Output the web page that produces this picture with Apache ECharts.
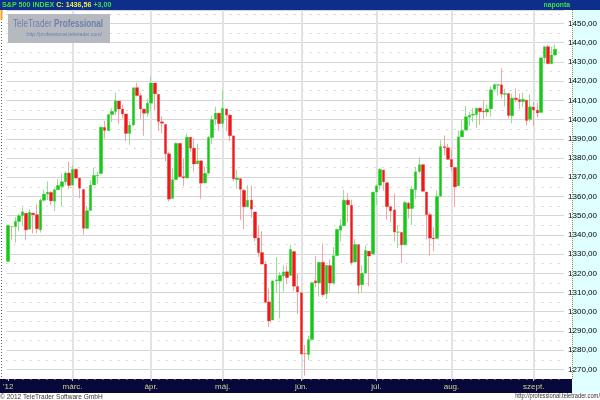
<!DOCTYPE html>
<html><head><meta charset="utf-8">
<script src="https://cdn.jsdelivr.net/npm/echarts@6/dist/echarts.min.js"></script>
<style>html,body{margin:0;padding:0;background:#fff}#c{width:600px;height:400px}</style>
</head><body><div id="c"></div>
<script>
const dates = [
'02-03','02-06','02-07','02-08','02-09','02-10','02-13','02-14','02-15','02-16','02-17','02-21','02-22','02-23','02-24','02-27','02-28','02-29',
'03-01','03-02','03-05','03-06','03-07','03-08','03-09','03-12','03-13','03-14','03-15','03-16','03-19','03-20','03-21','03-22','03-23','03-26','03-27','03-28','03-29','03-30',
'04-02','04-03','04-04','04-05','04-09','04-10','04-11','04-12','04-13','04-16','04-17','04-18','04-19','04-20','04-23','04-24','04-25','04-26','04-27','04-30',
'05-01','05-02','05-03','05-04','05-07','05-08','05-09','05-10','05-11','05-14','05-15','05-16','05-17','05-18','05-21','05-22','05-23','05-24','05-25','05-29','05-30','05-31',
'06-01','06-04','06-05','06-06','06-07','06-08','06-11','06-12','06-13','06-14','06-15','06-18','06-19','06-20','06-21','06-22','06-25','06-26','06-27','06-28','06-29',
'07-02','07-03','07-05','07-06','07-09','07-10','07-11','07-12','07-13','07-16','07-17','07-18','07-19','07-20','07-23','07-24','07-25','07-26','07-27','07-30','07-31',
'08-01','08-02','08-03','08-06','08-07','08-08','08-09','08-10','08-13','08-14','08-15','08-16','08-17','08-20','08-21','08-22','08-23','08-24','08-27','08-28','08-29','08-30','08-31',
'09-04','09-05','09-06','09-07','09-10','09-11','09-12'];

const opens = [
1326.2,1344.3,1344.3,1347.0,1350.0,1351.2,1343.0,1351.3,1350.5,1342.6,1358.0,1361.2,1362.1,1357.5,1363.5,1365.2,1367.6,1372.2,
1365.9,1374.1,1369.6,1363.6,1343.4,1352.7,1366.0,1370.8,1371.9,1395.9,1394.2,1402.6,1404.2,1409.6,1405.5,1402.9,1392.8,1397.1,1416.6,1412.5,1405.4,1403.3,
1408.5,1419.0,1413.1,1398.8,1397.5,1382.2,1359.0,1368.8,1387.6,1370.3,1369.6,1390.8,1385.1,1377.0,1378.5,1367.0,1372.1,1390.6,1400.2,1403.3,
1397.9,1405.5,1402.3,1391.5,1368.8,1369.2,1363.2,1354.6,1358.1,1351.9,1338.4,1330.8,1324.8,1305.1,1295.7,1316.1,1316.0,1318.7,1320.8,1318.9,1331.3,1313.1,
1309.9,1278.3,1277.8,1285.6,1316.1,1315.0,1325.7,1309.4,1324.0,1314.9,1329.2,1342.4,1344.8,1358.0,1355.4,1325.9,1334.9,1314.1,1320.1,1331.5,1330.1,
1362.3,1365.8,1373.7,1367.1,1354.7,1353.0,1341.4,1341.3,1334.8,1356.5,1353.7,1363.5,1373.0,1376.5,1362.3,1350.5,1338.4,1338.2,1360.1,1385.9,1385.3,
1379.3,1375.1,1365.5,1391.0,1394.5,1401.2,1402.3,1402.6,1405.9,1404.4,1403.9,1405.6,1415.8,1417.9,1418.1,1413.1,1413.5,1402.0,1411.1,1410.4,1409.3,1410.1,1400.1,
1406.5,1404.9,1403.7,1432.1,1437.9,1429.1,1433.6];

const highs = [
1345.3,1344.4,1349.2,1351.0,1354.3,1351.2,1353.4,1351.3,1355.9,1359.0,1363.4,1367.8,1362.7,1364.2,1368.9,1371.9,1373.1,1378.0,
1376.2,1374.5,1369.6,1363.6,1354.9,1368.4,1374.8,1373.0,1396.1,1399.4,1402.6,1405.9,1414.0,1409.6,1407.8,1402.9,1399.2,1416.6,1419.2,1413.7,1405.4,1410.9,
1422.4,1419.0,1413.1,1401.6,1397.5,1383.0,1374.7,1388.1,1387.6,1379.7,1392.8,1390.8,1390.5,1387.4,1378.5,1375.6,1391.4,1402.1,1406.6,1403.3,
1415.3,1405.5,1403.1,1391.5,1373.9,1369.2,1363.7,1365.9,1365.7,1351.9,1344.9,1341.8,1326.4,1312.2,1316.4,1328.5,1320.7,1324.1,1324.2,1334.9,1331.3,1319.7,
1309.9,1282.6,1287.6,1315.1,1329.0,1325.8,1335.5,1324.3,1327.3,1333.7,1343.3,1348.2,1363.5,1361.6,1358.3,1337.8,1334.9,1324.2,1334.4,1331.5,1362.2,
1366.4,1374.8,1373.9,1367.1,1354.9,1361.5,1345.0,1341.3,1357.7,1357.3,1365.4,1375.3,1380.4,1376.5,1362.3,1351.5,1344.0,1363.1,1389.2,1391.7,1387.2,
1385.0,1375.1,1394.2,1399.6,1407.1,1404.1,1406.0,1406.0,1405.9,1410.0,1407.7,1417.4,1418.7,1418.6,1426.7,1416.1,1413.5,1413.5,1416.2,1413.6,1414.0,1410.1,1413.1,
1409.3,1408.8,1432.1,1437.9,1438.7,1437.8,1439.2];

const lows = [
1326.2,1337.5,1335.9,1341.9,1344.6,1337.3,1343.0,1340.8,1340.8,1341.2,1357.2,1358.1,1355.5,1352.3,1363.5,1354.9,1366.0,1363.8,
1365.9,1368.9,1359.1,1340.0,1343.4,1352.7,1366.0,1366.7,1371.9,1390.0,1394.2,1398.8,1402.4,1397.7,1400.6,1388.7,1386.9,1397.1,1412.0,1400.5,1391.6,1401.4,
1404.5,1404.6,1394.1,1392.9,1378.2,1357.4,1359.0,1368.8,1369.9,1365.4,1369.6,1383.3,1372.9,1377.0,1358.8,1367.0,1372.1,1387.3,1397.2,1394.0,
1395.7,1393.9,1388.7,1368.0,1364.0,1347.8,1343.1,1354.6,1348.9,1336.6,1328.5,1324.8,1304.9,1292.0,1295.7,1310.0,1296.5,1310.5,1314.2,1318.9,1310.8,1298.9,
1277.3,1266.7,1274.7,1285.6,1312.7,1307.8,1307.7,1306.6,1310.5,1314.1,1329.2,1336.6,1344.8,1346.5,1324.4,1325.9,1309.3,1310.3,1320.1,1313.3,1330.1,
1355.7,1363.5,1363.0,1348.0,1346.6,1336.6,1333.2,1325.4,1334.8,1348.5,1345.1,1358.8,1372.1,1362.2,1337.6,1329.2,1331.5,1338.2,1360.1,1381.4,1379.2,
1373.1,1354.7,1365.5,1391.0,1394.5,1396.6,1398.8,1395.6,1397.3,1400.4,1401.6,1401.6,1414.7,1412.4,1410.9,1406.8,1400.5,1398.0,1409.1,1405.6,1406.6,1397.0,1399.0,
1396.6,1401.3,1403.7,1429.1,1429.0,1429.1,1433.0];

const closes = [
1344.9,1344.3,1347.0,1350.0,1352.0,1342.6,1351.8,1350.5,1343.2,1358.0,1361.2,1362.2,1357.7,1363.5,1365.7,1367.6,1372.2,1365.7,
1374.1,1369.6,1364.3,1343.4,1352.6,1365.9,1370.9,1371.1,1396.0,1394.3,1402.6,1404.2,1409.8,1405.5,1402.9,1392.8,1397.1,1416.5,1412.5,1405.5,1403.3,1408.5,
1419.0,1413.4,1399.0,1398.1,1382.2,1358.6,1368.7,1387.6,1370.3,1369.6,1390.8,1385.1,1376.9,1378.5,1366.9,1372.0,1390.7,1400.0,1403.4,1397.9,
1405.8,1402.3,1391.6,1369.1,1369.6,1363.7,1354.6,1358.0,1353.4,1338.4,1330.7,1324.8,1304.9,1295.2,1316.0,1316.6,1318.9,1320.7,1317.8,1332.4,1313.3,1310.3,
1278.0,1278.2,1285.5,1315.1,1315.0,1325.7,1308.9,1324.2,1314.9,1329.1,1342.8,1344.8,1358.0,1355.7,1325.5,1335.0,1313.7,1320.0,1331.9,1329.0,1362.2,
1365.5,1374.0,1367.6,1354.7,1352.5,1341.5,1341.5,1334.8,1356.8,1353.6,1363.7,1372.8,1376.5,1362.7,1350.5,1338.3,1337.9,1360.0,1386.0,1385.3,1379.3,
1375.3,1365.0,1391.0,1394.2,1401.4,1402.2,1402.8,1405.9,1404.1,1403.9,1405.5,1415.5,1418.2,1418.1,1413.2,1413.5,1402.1,1411.1,1410.4,1409.3,1410.5,1399.5,1406.6,
1404.9,1403.4,1432.1,1437.9,1429.1,1433.56,1436.56];

const monthLabels = {'02':"'12",'03':'márc.','04':'ápr.','05':'máj.','06':'jún.','07':'júl.','08':'aug.','09':'szept.'};
const emptySlots = ['', ' '];

const cats = dates.concat(emptySlots);
const n = dates.length;
const monthStart = [];
dates.forEach((d, i) => { if (i === 0 || d.slice(0, 2) !== dates[i - 1].slice(0, 2)) monthStart.push(i); });
const wickData = dates.map((d, i) => [opens[i], closes[i], lows[i], highs[i]]);
const bodyData = dates.map((d, i) => [opens[i], closes[i], Math.min(opens[i], closes[i]), Math.max(opens[i], closes[i])]);
const last = closes[n - 1];
const chg = last - closes[n - 2];
const fmt = v => v.toFixed(2).replace('.', ',');
const FF = 'Arial, Liberation Sans, sans-serif';

const chart = echarts.init(document.getElementById('c'), null, {renderer: 'canvas'});
chart.setOption({
  animation: false,
  backgroundColor: '#ffffff',
  grid: {left: 4, right: 28, top: 10, bottom: 21},
  xAxis: {
    type: 'category', data: cats, boundaryGap: true,
    axisLine: {show: false},
    axisTick: {show: true, alignWithLabel: true, length: 2, lineStyle: {color: '#c8c878'}},
    axisLabel: {
      interval: (i) => monthStart.includes(i),
      formatter: (v) => monthLabels[v.slice(0, 2)] || '',
      color: '#d2d296', fontSize: 8, margin: 4, fontFamily: FF
    },
    splitLine: {show: false}
  },
  yAxis: [
    {type: 'value', position: 'right', min: 1265, max: 1457, interval: 5,
     axisLine: {show: false}, axisTick: {show: false},
     axisLabel: {formatter: v => (Math.round(v) % 10 === 0 && v < 1456) ? fmt(v) : '', color: '#000', fontSize: 8, margin: 4,
                 fontFamily: FF},
     splitLine: {show: true, lineStyle: {color: ['rgba(0,0,0,0)', '#d6d6d6'], width: 1}}},
    {type: 'value', position: 'right', min: 1265, max: 1457, interval: 5,
     axisLine: {show: false}, axisTick: {show: false}, axisLabel: {show: false},
     splitLine: {show: true, lineStyle: {color: ['#b0b0b0', 'rgba(0,0,0,0)'], type: [1, 7], width: 1}}}
  ],
  series: [
    {type: 'candlestick', name: 'wick', data: wickData, barWidth: 3, silent: true, z: 2,
     itemStyle: {color: '#90e290', color0: '#f4a2a2', borderColor: '#90e290', borderColor0: '#f4a2a2', borderWidth: 1},
     markLine: {silent: true, symbol: 'none', z: 1, label: {show: false},
       lineStyle: {color: '#e2e2e2', width: 2, type: 'solid'},
       data: monthStart.slice(1).map(i => ({xAxis: cats[i]}))}},
    {type: 'candlestick', name: 'body', data: bodyData, barWidth: 3, silent: true, z: 3,
     itemStyle: {color: '#18c818', color0: '#f01818', borderColor: '#18c818', borderColor0: '#f01818', borderWidth: 0},
     markLine: {silent: true, symbol: 'none', z: 6,
       data: [{yAxis: last}],
       lineStyle: {opacity: 0},
       label: {show: true, position: 'end', distance: 1, formatter: fmt(last), color: '#000', fontSize: 8, fontWeight: 'bold',
               backgroundColor: '#ffff00', padding: [1, 2, 0, 1], fontFamily: FF}}}
  ],
  graphic: [
    {type: 'rect', z: -1, shape: {x: 572, y: 10, width: 28, height: 383}, style: {fill: '#e0ffff'}, silent: true},
    {type: 'rect', z: -1, shape: {x: 0, y: 379, width: 572, height: 14}, style: {fill: '#08083c'}, silent: true},
    {type: 'rect', z: 10, shape: {x: 0, y: 0, width: 600, height: 10}, style: {fill: '#0d2e8a'}, silent: true},
    {type: 'line', z: 10, shape: {x1: 572.5, y1: 10, x2: 572.5, y2: 379}, style: {stroke: '#8c8c50', lineWidth: 1, lineDash: [1, 1]}, silent: true},
    {type: 'line', z: 10, shape: {x1: 1.5, y1: 10, x2: 1.5, y2: 379}, style: {stroke: '#606060', lineWidth: 1, lineDash: [1, 2]}, silent: true},
    {type: 'line', z: 10, shape: {x1: 1.5, y1: 10, x2: 1.5, y2: 20}, style: {stroke: '#ff9a20', lineWidth: 2}, silent: true},
    {type: 'text', z: 11, x: 2, y: 5, scaleX: 0.89, silent: true,
     style: {text: '{g|S&P 500 INDEX} {y|C: ' + fmt(last) + '} {g|' + (chg >= 0 ? '+' : '') + fmt(chg) + '}',
             verticalAlign: 'middle', font: 'bold 8px ' + FF,
             rich: {g: {fill: '#40e040', font: 'bold 8px ' + FF},
                    y: {fill: '#f0f040', font: 'bold 8px ' + FF}}}},
    {type: 'text', z: 11, x: 570, y: 5, scaleX: 0.85, silent: true,
     style: {text: 'naponta', fill: '#40e040', align: 'right', verticalAlign: 'middle', font: 'bold 8px ' + FF}},
    {type: 'rect', z: 11, shape: {x: 8, y: 14, width: 102, height: 29}, style: {fill: '#b6b9c0'}, silent: true},
    {type: 'text', z: 12, x: 58, y: 24, scaleX: 0.74, silent: true,
     style: {text: '{a|TeleTrader} {b|Professional}', align: 'center', verticalAlign: 'middle',
             rich: {a: {fill: '#6c7fac', font: '11px ' + FF},
                    b: {fill: '#6c7fac', font: 'bold 11px ' + FF}}}},
    {type: 'text', z: 12, x: 102, y: 34, scaleX: 0.85, silent: true,
     style: {text: 'http://professional.teletrader.com/', fill: '#6c7fac', align: 'right', verticalAlign: 'middle',
             font: '6px ' + FF}},
    {type: 'text', z: 11, x: 0, y: 396.5, scaleX: 0.82, silent: true,
     style: {text: '© 2012 TeleTrader Software GmbH', fill: '#333333', verticalAlign: 'middle', font: '8px ' + FF}},
    {type: 'text', z: 11, x: 600, y: 396.5, scaleX: 0.82, silent: true,
     style: {text: 'http://professional.teletrader.com/', fill: '#333333', align: 'right', verticalAlign: 'middle', font: '7px ' + FF}}
  ]
});
</script>
</body></html>
